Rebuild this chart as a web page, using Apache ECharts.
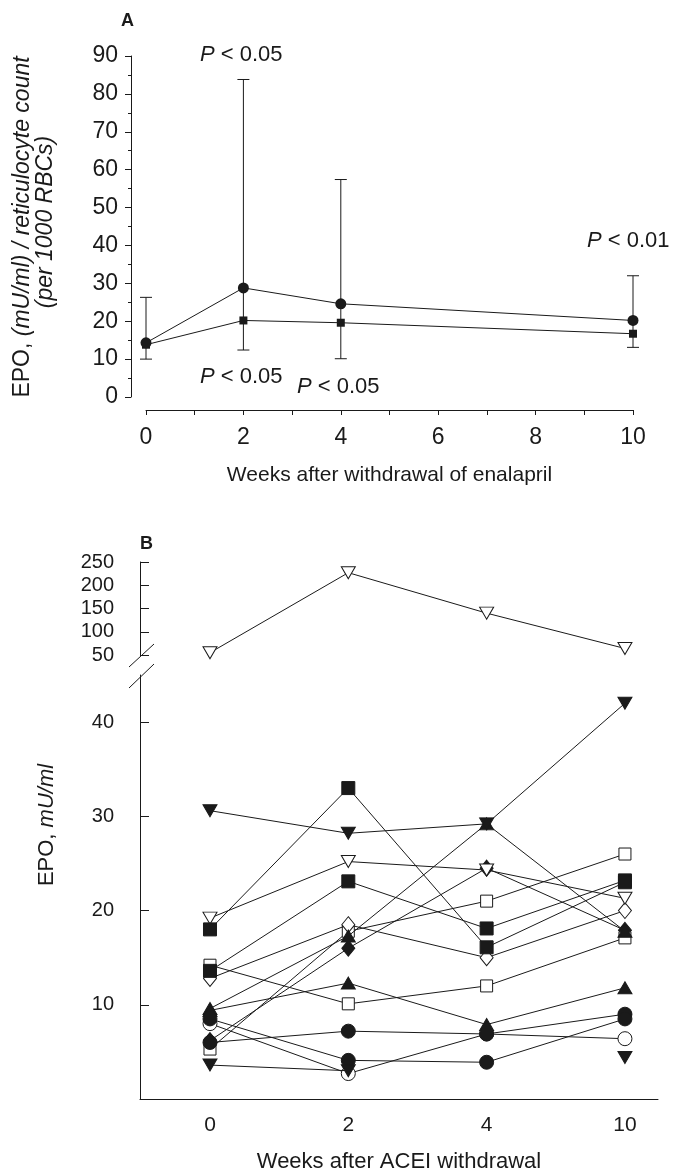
<!DOCTYPE html>
<html>
<head>
<meta charset="utf-8">
<script src="https://cdn.jsdelivr.net/npm/echarts@6/dist/echarts.min.js"></script>
<style>
  html, body { margin: 0; padding: 0; background: #fff; }
  #main { width: 677px; height: 1174px; }
</style>
</head>
<body>
<div id="main"></div>
<script>
// panel A: mean values and error bars
var weeksA = [0, 2, 4, 10];
var meanCircle = [14.3, 28.8, 24.6, 20.2];
var meanSquare = [13.8, 20.2, 19.6, 16.7];
var errHigh = [26.3, 83.8, 57.4, 32.0];
var errLow = [10.0, 12.4, 10.1, 13.1];

// panel B: individual patients
var weeksB = ['0', '2', '4', '10'];
var bUpperTri = [55, 227, 140, 64];
var bFilledDownA = [30.6, 28.2, 29.2, 42.0];
var bFilledDownB = [3.6, 3.0, null, 4.4];
var bFilledSqA = [18.0, 33.0, 16.1, 23.0];
var bFilledSqB = [13.6, 23.1, 18.1, 23.2];
var bOpenSqA = [14.2, 10.1, 12.0, 17.1];
var bOpenSqB = [5.3, 17.8, 21.0, 26.0];
var bOpenDownTri = [19.2, 25.2, 24.3, 21.3];
var bOpenDiamond = [12.8, 18.5, 15.0, 20.0];
var bFilledDiamond = [6.2, 16.0, 24.5, 17.9];
var bFilledTriA = [9.4, 12.3, 7.9, 11.8];
var bFilledTriB = [9.6, 17.3, 29.2, 17.8];
var bFilledCircA = [8.5, 4.1, 3.9, 8.5];
var bFilledCircB = [6.0, 7.2, 6.9, 9.0];
var bOpenCirc = [8.0, 2.7, 6.9, 6.4];
var ticksBLower = [10, 20, 30, 40];

var FONT = 'Liberation Sans';
var INK = '#1a1a1a';

var myChart = echarts.init(document.getElementById('main'), null, { renderer: 'canvas' });

function pairs(xs, ys) {
  return ys.map(function (v, i) { return [xs[i], v]; });
}
function idxPairs(ys) {
  return ys.map(function (v, i) { return [i, v]; });
}

function errRender(params, api) {
  var x = api.value(0);
  var lo = api.coord([x, api.value(1)]);
  var hi = api.coord([x, api.value(2)]);
  var w = 6;
  var st = { stroke: INK, lineWidth: 1 };
  return {
    type: 'group',
    children: [
      { type: 'line', shape: { x1: lo[0], y1: lo[1], x2: hi[0], y2: hi[1] }, style: st },
      { type: 'line', shape: { x1: lo[0] - w, y1: lo[1], x2: lo[0] + w, y2: lo[1] }, style: st },
      { type: 'line', shape: { x1: hi[0] - w, y1: hi[1], x2: hi[0] + w, y2: hi[1] }, style: st }
    ]
  };
}

// helper for panel B lines
function patient(data, symbol, filled, size, rotate, z) {
  return {
    type: 'line',
    xAxisIndex: 2,
    yAxisIndex: 2,
    data: idxPairs(data),
    symbol: symbol,
    symbolSize: size,
    symbolRotate: rotate || 0,
    z: z || 2,
    connectNulls: false,
    lineStyle: { color: INK, width: 1 },
    itemStyle: filled
      ? { color: INK, borderColor: INK, borderWidth: 1 }
      : { color: '#fff', borderColor: INK, borderWidth: 1 },
    emphasis: { disabled: true }
  };
}

function pText(left, top, txt) {
  return {
    type: 'text', left: left, top: top,
    style: {
      text: '{i|P} ' + txt, fontFamily: FONT, fontSize: 22, fill: INK,
      rich: { i: { fontFamily: FONT, fontSize: 22, fontStyle: 'italic', fill: INK } }
    }
  };
}

var option = {
  animation: false,
  backgroundColor: '#fff',
  grid: [
    { left: 146, width: 487, top: 56, height: 341 },
    { left: 140, width: 518, top: 562, height: 93 },
    { left: 140, width: 518, top: 675, height: 427 }
  ],
  xAxis: [
    {
      gridIndex: 0, type: 'value', min: 0, max: 10, interval: 1, offset: 13,
      name: 'Weeks after withdrawal of enalapril', nameLocation: 'middle', nameGap: 55,
      nameTextStyle: { fontFamily: FONT, fontSize: 21, color: INK },
      axisLine: { onZero: false, lineStyle: { color: INK, width: 1 } },
      axisTick: { show: true, length: 5, lineStyle: { color: INK } },
      axisLabel: {
        fontFamily: FONT, fontSize: 23, color: INK, margin: 16,
        formatter: function (v) { return v % 2 === 0 ? String(v) : ''; }
      },
      splitLine: { show: false }
    },
    {
      gridIndex: 1, type: 'value', min: -0.506, max: 3.239, show: false
    },
    {
      gridIndex: 2, type: 'value', min: -0.506, max: 3.239,
      name: 'Weeks after ACEI withdrawal', nameLocation: 'middle', nameGap: 52,
      nameTextStyle: { fontFamily: FONT, fontSize: 22, color: INK },
      axisLine: { onZero: false, lineStyle: { color: INK, width: 1 } },
      axisTick: { show: false },
      axisLabel: {
        fontFamily: FONT, fontSize: 21, color: INK, margin: 16,
        customValues: [0, 1, 2, 3],
        formatter: function (v) { return weeksB[Math.round(v)]; }
      },
      splitLine: { show: false }
    }
  ],
  yAxis: [
    {
      gridIndex: 0, type: 'value', min: 0, max: 90, interval: 10, offset: 15,
      axisLine: { show: true, onZero: false, lineStyle: { color: INK, width: 1 } },
      axisTick: { show: true, length: 6, lineStyle: { color: INK } },
      minorTick: { show: true, splitNumber: 2, length: 3, lineStyle: { color: INK } },
      axisLabel: { fontFamily: FONT, fontSize: 23, color: INK, margin: 13 },
      splitLine: { show: false }
    },
    {
      gridIndex: 1, type: 'value', min: 50, max: 250, interval: 50,
      axisLine: { show: true, onZero: false, lineStyle: { color: INK, width: 1 } },
      axisTick: { show: true, inside: true, length: 9, lineStyle: { color: INK } },
      axisLabel: { fontFamily: FONT, fontSize: 20, color: INK, margin: 26 },
      splitLine: { show: false }
    },
    {
      gridIndex: 2, type: 'value', min: 0, max: 45,
      axisLine: { show: true, onZero: false, lineStyle: { color: INK, width: 1 } },
      axisTick: { show: true, inside: true, length: 9, customValues: ticksBLower, lineStyle: { color: INK } },
      axisLabel: { fontFamily: FONT, fontSize: 20, color: INK, margin: 26, customValues: ticksBLower },
      splitLine: { show: false }
    }
  ],
  series: [
    {
      type: 'custom',
      xAxisIndex: 0, yAxisIndex: 0,
      renderItem: errRender,
      encode: { x: 0, y: [1, 2] },
      data: weeksA.map(function (w, i) { return [w, errLow[i], errHigh[i]]; }),
      z: 1
    },
    {
      type: 'line', xAxisIndex: 0, yAxisIndex: 0,
      data: pairs(weeksA, meanSquare),
      symbol: 'rect', symbolSize: 8,
      lineStyle: { color: INK, width: 1 },
      itemStyle: { color: INK },
      z: 3
    },
    {
      type: 'line', xAxisIndex: 0, yAxisIndex: 0,
      data: pairs(weeksA, meanCircle),
      symbol: 'circle', symbolSize: 11,
      lineStyle: { color: INK, width: 1 },
      itemStyle: { color: INK },
      z: 4
    },
    // panel B upper part (broken axis)
    {
      type: 'line', xAxisIndex: 1, yAxisIndex: 1,
      data: idxPairs(bUpperTri),
      symbol: 'triangle', symbolSize: [14, 12], symbolRotate: 180,
      lineStyle: { color: INK, width: 1 },
      itemStyle: { color: '#fff', borderColor: INK, borderWidth: 1 }
    },
    patient(bFilledDiamond, 'diamond', true, [13, 16], 0, 2),
    patient(bOpenSqB, 'rect', false, 12, 0, 2),
    patient(bOpenCirc, 'circle', false, 14, 0, 2),
    patient(bFilledCircB, 'circle', true, 14, 0, 3),
    patient(bFilledCircA, 'circle', true, 14, 0, 3),
    patient(bFilledDownB, 'triangle', true, [14, 12], 180, 3),
    patient(bOpenSqA, 'rect', false, 12, 0, 3),
    patient(bOpenDiamond, 'diamond', false, [13, 16], 0, 3),
    patient(bFilledSqB, 'rect', true, 13, 0, 4),
    patient(bFilledTriB, 'triangle', true, [14, 12], 0, 3),
    patient(bFilledTriA, 'triangle', true, [14, 12], 0, 4),
    patient(bOpenDownTri, 'triangle', false, [14, 12], 180, 4),
    patient(bFilledSqA, 'rect', true, 13, 0, 4),
    patient(bFilledDownA, 'triangle', true, [14, 12], 180, 4)
  ],
  graphic: [
    { type: 'text', left: 121, top: 12, style: { text: 'A', fontFamily: FONT, fontSize: 18, fontWeight: 'bold', fill: INK } },
    { type: 'text', left: 140, top: 535, style: { text: 'B', fontFamily: FONT, fontSize: 18, fontWeight: 'bold', fill: INK } },
    {
      type: 'text', x: 23, y: 227, rotation: Math.PI / 2,
      style: {
        text: '{n|EPO, }{i|(mU/ml) / reticulocyte count}',
        align: 'center', verticalAlign: 'middle', fill: INK,
        rich: {
          n: { fontFamily: FONT, fontSize: 23, fill: INK },
          i: { fontFamily: FONT, fontSize: 23, fontStyle: 'italic', fill: INK }
        }
      }
    },
    {
      type: 'text', x: 46, y: 222, rotation: Math.PI / 2,
      style: { text: '(per 1000 RBCs)', fontFamily: FONT, fontSize: 23, fontStyle: 'italic', align: 'center', verticalAlign: 'middle', fill: INK }
    },
    {
      type: 'text', x: 47, y: 825, rotation: Math.PI / 2,
      style: {
        text: '{n|EPO, }{i|mU/ml}',
        align: 'center', verticalAlign: 'middle', fill: INK,
        rich: {
          n: { fontFamily: FONT, fontSize: 22, fill: INK },
          i: { fontFamily: FONT, fontSize: 22, fontStyle: 'italic', fill: INK }
        }
      }
    },
    // P value notes
    pText(200, 44, '< 0.05'),
    pText(587, 230, '< 0.01'),
    pText(200, 366, '< 0.05'),
    pText(297, 376, '< 0.05'),
    // axis break marks
    { type: 'line', shape: { x1: 129, y1: 667, x2: 154, y2: 644 }, style: { stroke: INK, lineWidth: 1 } },
    { type: 'line', shape: { x1: 129, y1: 688, x2: 154, y2: 664 }, style: { stroke: INK, lineWidth: 1 } }
  ]
};

myChart.setOption(option);
</script>
</body>
</html>
